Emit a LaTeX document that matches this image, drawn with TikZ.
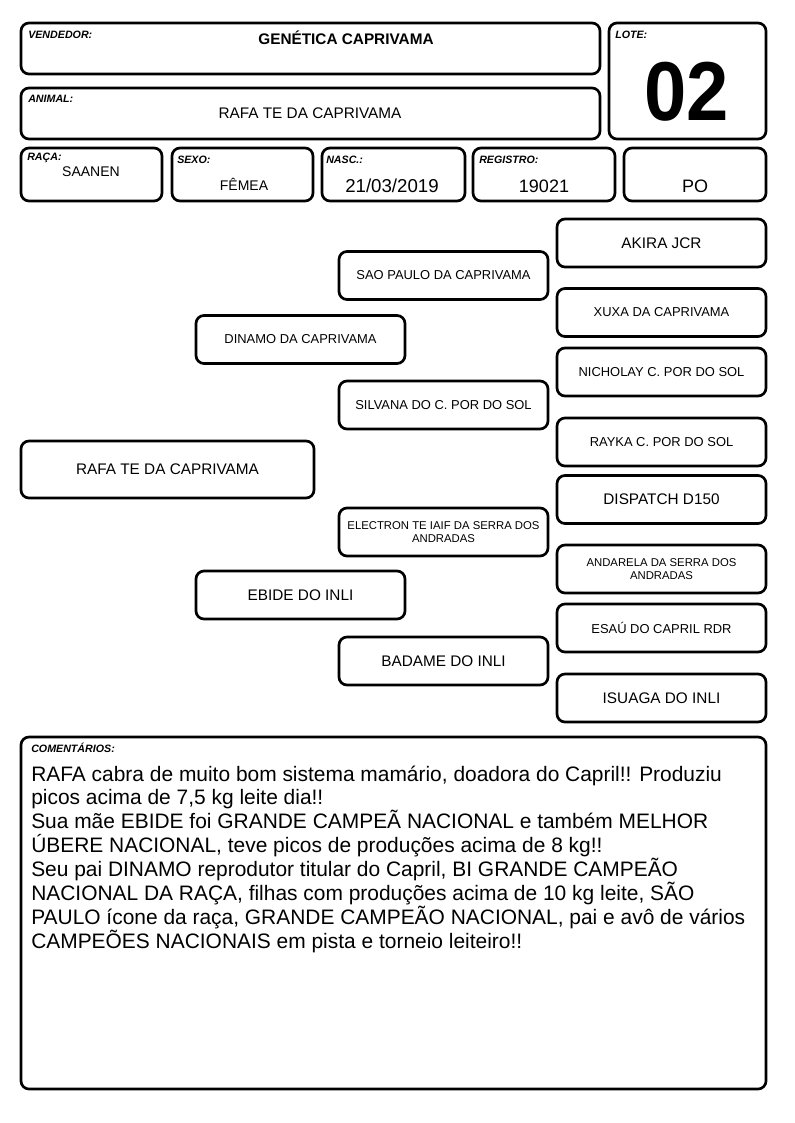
\documentclass[tikz,border=0pt]{standalone}
\usepackage{fontspec}
\setmainfont{Liberation Sans}
\tikzset{
	box/.style={draw, line width=2pt, rounded corners=6pt},
	ped/.style={box, minimum width=156.75pt, minimum height=36pt, inner sep=1pt, align=center},
	lbl/.style={anchor=west, inner sep=0pt, font=\fontsize{8}{9}\selectfont\bfseries\itshape},
	val/.style={inner sep=0pt, font=\fontsize{10.5}{12}\selectfont},
	big/.style={font=\fontsize{11.5}{13}\selectfont},
	med/.style={font=\fontsize{9.7}{11}\selectfont},
	sml/.style={font=\fontsize{8.5}{10}\selectfont},
}

\begin{document}
\begin{tikzpicture}[x=0.75pt, y=-0.75pt]
		%%%%% START %%%%%
		\useasboundingbox (0, 0) rectangle (794, 1123);
		
		%% header
		\draw[box] (21, 23) rectangle (600, 74);
		\node[lbl] (vendedorlbl) at (28, 35) {VENDEDOR:};
		\node[inner sep=0pt, font=\fontsize{11.5}{13}\selectfont\bfseries] (vendedor) at (346, 38) {GENÉTICA CAPRIVAMA};
		
		\draw[box] (609, 23) rectangle (766, 139);
		\node[lbl] (lotelbl) at (615, 35) {LOTE:};
		\node[inner sep=0pt, font=\fontsize{57}{60}\selectfont\bfseries] (lote) at (687, 92) {\scalebox{1}[1.1]{02}};
		
		\draw[box] (21, 88) rectangle (600, 139);
		\node[lbl] (animallbl) at (28, 99) {ANIMAL:};
		\node[val, font=\fontsize{11.5}{13}\selectfont] (animal) at (310, 113) {RAFA TE DA CAPRIVAMA};
		
		%% row of data
		\draw[box] (21, 148) rectangle (162, 201);
		\node[lbl] (racalbl) at (27, 158) {RAÇA:};
		\node[val] (raca) at (91, 172) {SAANEN};
		
		\draw[box] (172, 148) rectangle (313, 201);
		\node[lbl] (sexolbl) at (177, 160) {SEXO:};
		\node[val] (sexo) at (244, 184) {FÊMEA};
		
		\draw[box] (322, 148) rectangle (465, 201);
		\node[lbl] (nasclbl) at (326, 160) {NASC.:};
		\node[val, font=\fontsize{14}{16}\selectfont] (nasc) at (392, 186) {21/03/2019};
		
		\draw[box] (473, 148) rectangle (615, 201);
		\node[lbl] (registrolbl) at (479, 160) {REGISTRO:};
		\node[val, font=\fontsize{13.5}{15}\selectfont] (registro) at (544, 186) {19021};
		
		\draw[box] (624, 148) rectangle (766, 201);
		\node[val, font=\fontsize{13.5}{15}\selectfont] (po) at (695, 186) {PO};
		
		%% pedigree
		\node[ped, big, minimum width=219.75pt, minimum height=42.75pt] (rafa) at (167.5, 469.5) {RAFA TE DA CAPRIVAMA};
		
		\node[ped, med] (dinamo) at (300.5, 339.5) {DINAMO DA CAPRIVAMA};
		\node[ped, big] (ebide) at (300.5, 595) {EBIDE DO INLI};
		
		\node[ped, med] (saopaulo) at (443.5, 275.5) {SAO PAULO DA CAPRIVAMA};
		\node[ped, med] (silvana) at (443.5, 405) {SILVANA DO C. POR DO SOL};
		\node[ped, sml] (electron) at (443.5, 532) {ELECTRON TE IAIF DA SERRA DOS\\ANDRADAS};
		\node[ped, big] (badame) at (443.5, 661) {BADAME DO INLI};
		
		\node[ped, big] (akira) at (661.5, 243) {AKIRA JCR};
		\node[ped, med] (xuxa) at (661.5, 312.5) {XUXA DA CAPRIVAMA};
		\node[ped, med] (nicholay) at (661.5, 372) {NICHOLAY C. POR DO SOL};
		\node[ped, med] (rayka) at (661.5, 442) {RAYKA C. POR DO SOL};
		\node[ped, big] (dispatch) at (661.5, 499.5) {DISPATCH D150};
		\node[ped, sml] (andarela) at (661.5, 569) {ANDARELA DA SERRA DOS\\ANDRADAS};
		\node[ped, med] (esau) at (661.5, 628) {ESAÚ DO CAPRIL RDR};
		\node[ped, big] (isuaga) at (661.5, 698) {ISUAGA DO INLI};
		
		%% comments
		\draw[box] (21, 737) rectangle (766, 1089);
		\node[lbl] (comentarioslbl) at (31, 748) {COMENTÁRIOS:};
		\foreach \txt [count=\i] in {
			{RAFA cabra de muito bom sistema mamário, doadora do Capril!! Produziu},
			{picos acima de 7,5 kg leite dia!!},
			{Sua mãe EBIDE foi GRANDE CAMPEÃ NACIONAL e também MELHOR},
			{ÚBERE NACIONAL, teve picos de produções acima de 8 kg!!},
			{Seu pai DINAMO reprodutor titular do Capril, BI GRANDE CAMPEÃO},
			{NACIONAL DA RAÇA, filhas com produções acima de 10 kg leite, SÃO},
			{PAULO ícone da raça, GRANDE CAMPEÃO NACIONAL, pai e avô de vários},
			{CAMPEÕES NACIONAIS em pista e torneio leiteiro!!}}
			\node[anchor=base west, inner sep=0pt, font=\fontsize{15.7}{18}\selectfont] (com\i) at (31, {781+23.9*(\i-1)}) {\txt};
		
		%%%%% END %%%%%
	\end{tikzpicture}
\end{document}
